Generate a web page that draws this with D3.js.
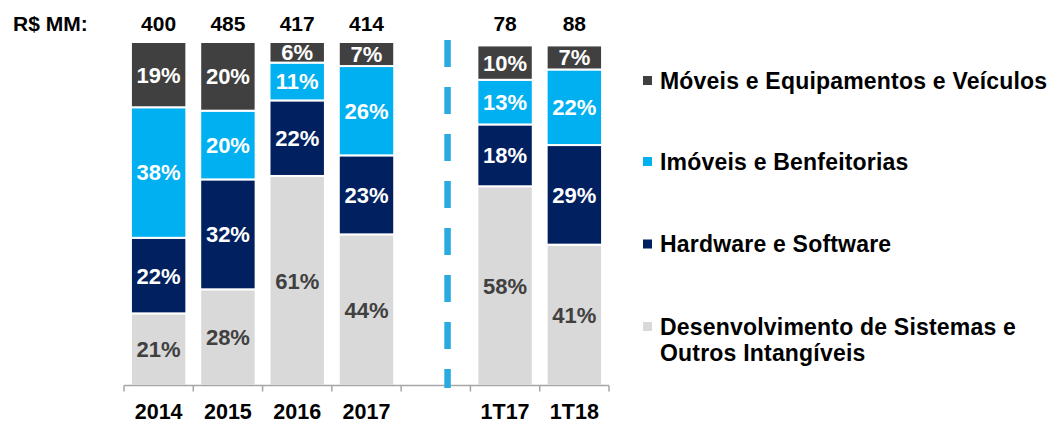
<!DOCTYPE html>
<html>
<head>
<meta charset="utf-8">
<script src="https://cdn.jsdelivr.net/npm/d3@7"></script>
<style>
  html, body { margin: 0; padding: 0; background: #fff; }
  svg { display: block; font-family: Arial, "Liberation Sans", sans-serif; font-weight: bold; }
</style>
</head>
<body>
<svg id="chart" width="1052" height="423"></svg>
<script>
// Periods shown on the axis (annual, then quarterly after the divider)
const annual = ["2014", "2015", "2016", "2017"];
const quarterly = ["1T17", "1T18"];
const categories = annual.concat(quarterly);

// Share of each investment group per period (%)
const desenvolvimento = [21, 28, 61, 44, 58, 41];
const hardware = [22, 32, 22, 23, 18, 29];
const imoveis = [38, 20, 11, 26, 13, 22];
const moveis = [19, 20, 6, 7, 10, 7];

// Total invested per period (R$ MM)
const totals = [400, 485, 417, 414, 78, 88];

const seriesNames = [
  "Desenvolvimento de Sistemas e Outros Intangíveis",
  "Hardware e Software",
  "Imóveis e Benfeitorias",
  "Móveis e Equipamentos e Veículos"
];
const seriesValues = [desenvolvimento, hardware, imoveis, moveis];
const seriesColors = ["#D9D9D9", "#002060", "#00B0F0", "#404040"];
const labelColors = ["#404040", "#ffffff", "#ffffff", "#ffffff"];

const svg = d3.select("#chart");

// Axis slots: an empty slot separates annual and quarterly periods
const GAP = "__gap__";
const slots = annual.concat([GAP], quarterly);

const xSlot = d3.scaleBand().domain(slots).range([124, 609]).padding(0);
const xBar = d3.scaleBand().domain(slots).range([124, 609])
  .paddingInner(0.2).paddingOuter(0.1);
const y = d3.scaleLinear().domain([0, 100]).range([385.5, 42]);

// Build stacked rows
const rows = categories.map((c, i) => {
  const r = { cat: c, total: totals[i] };
  seriesNames.forEach((n, k) => { r[n] = seriesValues[k][i]; });
  return r;
});
const stacked = d3.stack().keys(seriesNames)(rows);

// Bars
const layers = svg.append("g").selectAll("g")
  .data(stacked)
  .join("g")
  .attr("fill", (d, k) => seriesColors[k]);

layers.selectAll("rect")
  .data(d => d)
  .join("rect")
  .attr("x", d => xBar(d.data.cat))
  .attr("width", xBar.bandwidth())
  .attr("y", d => y(d[1]))
  .attr("height", d => y(d[0]) - y(d[1]))
  .attr("stroke", "#ffffff")
  .attr("stroke-width", 2);

// Percent labels inside segments
layers.each(function (layer, k) {
  d3.select(this).selectAll("text")
    .data(layer)
    .join("text")
    .attr("x", d => xBar(d.data.cat) + xBar.bandwidth() / 2)
    .attr("y", d => (y(d[0]) + y(d[1])) / 2)
    .attr("dy", "0.36em")
    .attr("text-anchor", "middle")
    .attr("fill", labelColors[k])
    .attr("font-size", 22)
    .text(d => (d[1] - d[0]) + "%");
});

// Totals above bars
svg.append("g").selectAll("text")
  .data(rows)
  .join("text")
  .attr("x", d => xBar(d.cat) + xBar.bandwidth() / 2)
  .attr("y", 30.5)
  .attr("text-anchor", "middle")
  .attr("fill", "#000")
  .attr("font-size", 21)
  .text(d => d.total);

svg.append("text")
  .attr("x", 13)
  .attr("y", 30.5)
  .attr("fill", "#000")
  .attr("font-size", 21)
  .text("R$ MM:");

// Baseline axis with ticks at slot boundaries
const axisG = svg.append("g").attr("stroke", "#A6A6A6").attr("stroke-width", 1.5);
axisG.append("line")
  .attr("x1", xSlot.range()[0]).attr("x2", xSlot.range()[1])
  .attr("y1", y(0)).attr("y2", y(0));
const boundaries = slots.map(s => xSlot(s)).concat([xSlot.range()[1]]);
axisG.selectAll("line.tick")
  .data(boundaries)
  .join("line")
  .attr("class", "tick")
  .attr("x1", d => d).attr("x2", d => d)
  .attr("y1", y(0)).attr("y2", y(0) + 6);

// Category labels
svg.append("g").selectAll("text")
  .data(categories)
  .join("text")
  .attr("x", d => xSlot(d) + xSlot.bandwidth() / 2)
  .attr("y", 418.5)
  .attr("text-anchor", "middle")
  .attr("fill", "#000")
  .attr("font-size", 21.5)
  .text(d => d);

// Dashed divider between annual and quarterly periods
const divX = xSlot(GAP) + xSlot.bandwidth() * 0.67;
svg.append("line")
  .attr("x1", divX).attr("x2", divX)
  .attr("y1", 40).attr("y2", 388)
  .attr("stroke", "#29ABE2")
  .attr("stroke-width", 6.5)
  .attr("stroke-dasharray", "27 20");

// Legend (top to bottom: reverse stacking order)
const legendItems = [
  { lines: ["Móveis e Equipamentos e Veículos"], color: seriesColors[3], cy: 80.5 },
  { lines: ["Imóveis e Benfeitorias"], color: seriesColors[2], cy: 161.5 },
  { lines: ["Hardware e Software"], color: seriesColors[1], cy: 244 },
  { lines: ["Desenvolvimento de Sistemas e", "Outros Intangíveis"], color: seriesColors[0], cy: 326.5 }
];
const legend = svg.append("g");
legendItems.forEach(item => {
  legend.append("rect")
    .attr("x", 643).attr("y", item.cy - 4.5)
    .attr("width", 9).attr("height", 9)
    .attr("fill", item.color);
  const t = legend.append("text")
    .attr("x", 660)
    .attr("y", item.cy + 8)
    .attr("fill", "#000")
    .attr("font-size", 23)
    .attr("letter-spacing", 0.2);
  item.lines.forEach((ln, i) => {
    t.append("tspan").attr("x", 660).attr("dy", i === 0 ? 0 : 26).text(ln);
  });
});
</script>
</body>
</html>
